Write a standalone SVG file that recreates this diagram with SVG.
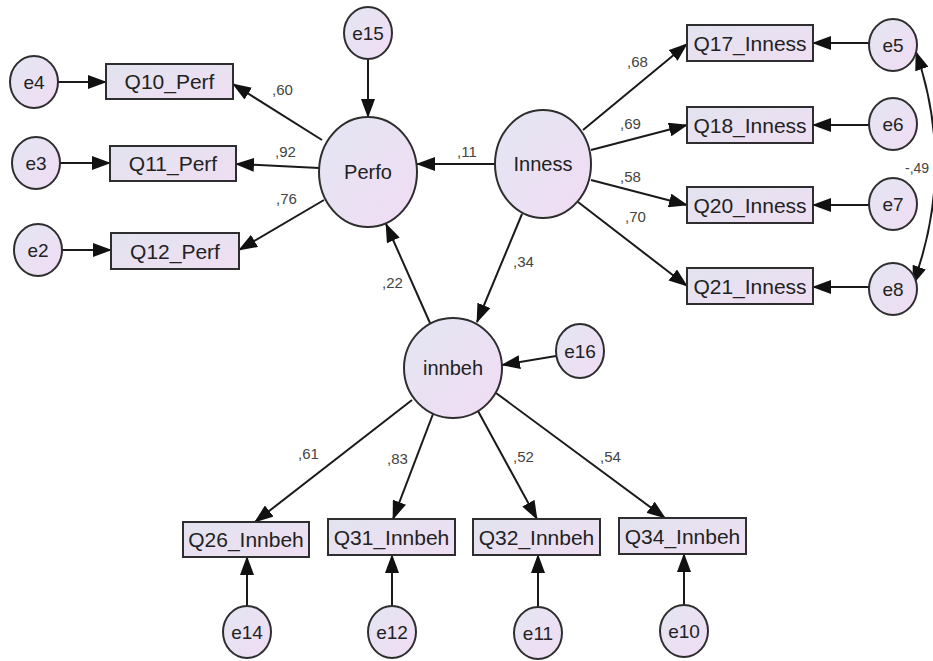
<svg xmlns="http://www.w3.org/2000/svg" width="933" height="661" viewBox="0 0 933 661">
  <style>
    .lat { fill: url(#latFill); stroke: #2e2e2e; stroke-width: 2; }
    .err { fill: url(#latFill); stroke: #2e2e2e; stroke-width: 2; }
    .box { fill: url(#boxFill); stroke: #2e2e2e; stroke-width: 2; }
    .lbl { font-family: "Liberation Sans", Arial, sans-serif; font-size: 20px; fill: #222; text-anchor: middle; }
    .qlbl { font-family: "Liberation Sans", Arial, sans-serif; font-size: 21px; fill: #222; text-anchor: middle; }
    .elbl { font-family: "Liberation Sans", Arial, sans-serif; font-size: 19px; fill: #222; text-anchor: middle; }
    .coef { font-family: "Liberation Sans", Arial, sans-serif; font-size: 15px; fill: #444; }
    .edge { stroke: #1a1a1a; stroke-width: 2; fill: none; marker-end: url(#arrow); }
    .cov { stroke: #1a1a1a; stroke-width: 2; fill: none; marker-start: url(#arrow); marker-end: url(#arrow); }
  </style>
  <defs>
    <linearGradient id="latFill" x1="0" y1="0" x2="1" y2="1">
      <stop offset="0" stop-color="#e3e6f3"/>
      <stop offset="1" stop-color="#f1dcf3"/>
    </linearGradient>
    <linearGradient id="boxFill" x1="0" y1="0" x2="1" y2="1">
      <stop offset="0" stop-color="#e2e3ef"/>
      <stop offset="1" stop-color="#efdef2"/>
    </linearGradient>
    <marker id="arrow" markerUnits="userSpaceOnUse" markerWidth="19" markerHeight="14" refX="18" refY="7" orient="auto-start-reverse">
      <path d="M0,0 L19,7 L0,14 z" fill="#111"/>
    </marker>
  </defs>
  <rect width="933" height="661" fill="#ffffff"/>

  <!-- connectors -->
  <g id="connectors">
    <line class="edge" x1="368" y1="59" x2="368" y2="117"/>
    <line class="edge" x1="58" y1="82" x2="106" y2="82"/>
    <line class="edge" x1="60" y1="163" x2="110" y2="163"/>
    <line class="edge" x1="62" y1="250" x2="111" y2="250"/>
    <line class="edge" x1="322" y1="140" x2="233" y2="84"/>
    <line class="edge" x1="319" y1="168" x2="236" y2="164"/>
    <line class="edge" x1="324" y1="200" x2="239" y2="250"/>
    <line class="edge" x1="495" y1="164" x2="417" y2="164"/>
    <line class="edge" x1="583" y1="130" x2="687" y2="44"/>
    <line class="edge" x1="591" y1="150" x2="687" y2="125"/>
    <line class="edge" x1="591" y1="180" x2="687" y2="205"/>
    <line class="edge" x1="578" y1="202" x2="687" y2="286"/>
    <line class="edge" x1="869" y1="43" x2="813" y2="43"/>
    <line class="edge" x1="869" y1="125" x2="813" y2="125"/>
    <line class="edge" x1="869" y1="205" x2="813" y2="205"/>
    <line class="edge" x1="869" y1="287" x2="813" y2="287"/>
    <path class="cov" d="M916,52 Q956,168 913,284"/>
    <line class="edge" x1="522" y1="214" x2="477" y2="322"/>
    <line class="edge" x1="430" y1="323" x2="386" y2="224"/>
    <line class="edge" x1="556" y1="356" x2="502" y2="365"/>
    <line class="edge" x1="412" y1="400" x2="255" y2="522"/>
    <line class="edge" x1="433" y1="414" x2="393" y2="519"/>
    <line class="edge" x1="478" y1="411" x2="537" y2="519"/>
    <line class="edge" x1="496" y1="393" x2="665" y2="518"/>
    <line class="edge" x1="247" y1="606" x2="247" y2="557"/>
    <line class="edge" x1="392" y1="606" x2="392" y2="555"/>
    <line class="edge" x1="538" y1="607" x2="538" y2="555"/>
    <line class="edge" x1="684" y1="605" x2="684" y2="554"/>
  </g>

  <!-- path coefficients -->
  <g id="coefficients">
    <text class="coef" x="272" y="95">,60</text>
    <text class="coef" x="275" y="157">,92</text>
    <text class="coef" x="276" y="204">,76</text>
    <text class="coef" x="457" y="157">,11</text>
    <text class="coef" x="513" y="267">,34</text>
    <text class="coef" x="382" y="288">,22</text>
    <text class="coef" x="627" y="67">,68</text>
    <text class="coef" x="620" y="129">,69</text>
    <text class="coef" x="620" y="182">,58</text>
    <text class="coef" x="625" y="222">,70</text>
    <text class="coef" x="298" y="459">,61</text>
    <text class="coef" x="387" y="464">,83</text>
    <text class="coef" x="513" y="462">,52</text>
    <text class="coef" x="600" y="462">,54</text>
    <text class="coef" x="905" y="173" style="font-size:14px">-,49</text>
  </g>

  <!-- latent variables -->
  <g id="Perfo"><ellipse class="lat" cx="368" cy="172" rx="49" ry="55"/><text class="lbl" x="368" y="179">Perfo</text></g>
  <g id="Inness"><ellipse class="lat" cx="543" cy="164" rx="48" ry="54"/><text class="lbl" x="543" y="171">Inness</text></g>
  <g id="innbeh"><ellipse class="lat" cx="453" cy="368" rx="49" ry="50"/><text class="lbl" x="453" y="375">innbeh</text></g>

  <!-- observed indicators -->
  <g id="Q10_Perf"><rect class="box" x="106" y="64" width="127" height="35"/><text class="qlbl" x="169.5" y="89">Q10_Perf</text></g>
  <g id="Q11_Perf"><rect class="box" x="110" y="146" width="126" height="35"/><text class="qlbl" x="173" y="171">Q11_Perf</text></g>
  <g id="Q12_Perf"><rect class="box" x="111" y="233" width="128" height="36"/><text class="qlbl" x="175" y="259">Q12_Perf</text></g>
  <g id="Q17_Inness"><rect class="box" x="687" y="25" width="126" height="36"/><text class="qlbl" x="750" y="51">Q17_Inness</text></g>
  <g id="Q18_Inness"><rect class="box" x="687" y="107" width="126" height="36"/><text class="qlbl" x="750" y="133">Q18_Inness</text></g>
  <g id="Q20_Inness"><rect class="box" x="687" y="187" width="126" height="36"/><text class="qlbl" x="750" y="213">Q20_Inness</text></g>
  <g id="Q21_Inness"><rect class="box" x="687" y="268" width="126" height="36"/><text class="qlbl" x="750" y="294">Q21_Inness</text></g>
  <g id="Q26_Innbeh"><rect class="box" x="183" y="522" width="126" height="35"/><text class="qlbl" x="246" y="547">Q26_Innbeh</text></g>
  <g id="Q31_Innbeh"><rect class="box" x="328" y="519" width="127" height="36"/><text class="qlbl" x="391.5" y="545">Q31_Innbeh</text></g>
  <g id="Q32_Innbeh"><rect class="box" x="473" y="519" width="127" height="36"/><text class="qlbl" x="536.5" y="545">Q32_Innbeh</text></g>
  <g id="Q34_Innbeh"><rect class="box" x="619" y="518" width="127" height="36"/><text class="qlbl" x="682.5" y="544">Q34_Innbeh</text></g>

  <!-- error terms -->
  <g id="e15"><ellipse class="err" cx="368" cy="33" rx="24" ry="26"/><text class="elbl" x="368" y="40">e15</text></g>
  <g id="e4"><ellipse class="err" cx="34" cy="82" rx="24" ry="26"/><text class="elbl" x="34" y="89">e4</text></g>
  <g id="e3"><ellipse class="err" cx="36" cy="163" rx="24" ry="26"/><text class="elbl" x="36" y="170">e3</text></g>
  <g id="e2"><ellipse class="err" cx="38" cy="250" rx="24" ry="26"/><text class="elbl" x="38" y="257">e2</text></g>
  <g id="e5"><ellipse class="err" cx="893" cy="45" rx="24" ry="26"/><text class="elbl" x="893" y="52">e5</text></g>
  <g id="e6"><ellipse class="err" cx="893" cy="124" rx="24" ry="26"/><text class="elbl" x="893" y="131">e6</text></g>
  <g id="e7"><ellipse class="err" cx="893" cy="204" rx="24" ry="26"/><text class="elbl" x="893" y="211">e7</text></g>
  <g id="e8"><ellipse class="err" cx="893" cy="289" rx="24" ry="26"/><text class="elbl" x="893" y="296">e8</text></g>
  <g id="e16"><ellipse class="err" cx="580" cy="351" rx="24" ry="27"/><text class="elbl" x="580" y="358">e16</text></g>
  <g id="e14"><ellipse class="err" cx="247" cy="632" rx="24" ry="26"/><text class="elbl" x="247" y="639">e14</text></g>
  <g id="e12"><ellipse class="err" cx="392" cy="632" rx="24" ry="26"/><text class="elbl" x="392" y="639">e12</text></g>
  <g id="e11"><ellipse class="err" cx="538" cy="633" rx="24" ry="26"/><text class="elbl" x="538" y="640">e11</text></g>
  <g id="e10"><ellipse class="err" cx="684" cy="631" rx="24" ry="26"/><text class="elbl" x="684" y="638">e10</text></g>
</svg>
